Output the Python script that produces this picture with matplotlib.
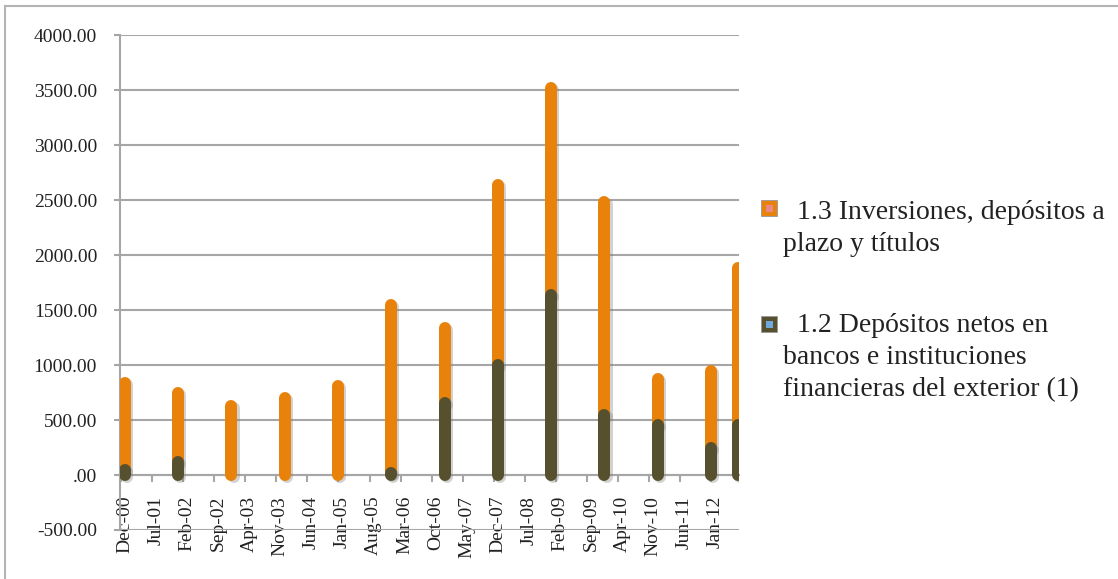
import numpy as np
import pandas as pd
import matplotlib
matplotlib.use("Agg")
import matplotlib.pyplot as plt
import matplotlib.patheffects as pe
from matplotlib.patches import Rectangle
from matplotlib.lines import Line2D
from matplotlib.ticker import FixedLocator, FuncFormatter

# data
dates = ["2000-12", "2001-12", "2002-12", "2003-12", "2004-12", "2005-12",
         "2006-12", "2007-12", "2008-12", "2009-12", "2010-12", "2011-12",
         "2012-06"]
depositos = np.array([45, 121, 0, 0, 0, 18, 652, 1000, 1636, 545, 455, 243, 455])
inversiones = np.array([791, 624, 630, 703, 809, 1527, 681, 1636, 1879, 1940,
                        415, 702, 1424])

tick_labels = ["Dec-00", "Jul-01", "Feb-02", "Sep-02", "Apr-03", "Nov-03",
               "Jun-04", "Jan-05", "Aug-05", "Mar-06", "Oct-06", "May-07",
               "Dec-07", "Jul-08", "Feb-09", "Sep-09", "Apr-10", "Nov-10",
               "Jun-11", "Jan-12"]

label_13 = "  1.3 Inversiones, depósitos a\nplazo y títulos"
label_12 = "  1.2 Depósitos netos en\nbancos e instituciones\nfinancieras del exterior (1)"

orange = "#E8820A"
dark = "#57502F"
grid_c = "#A6A6A6"


def month_index(s, start="2000-12"):
    p = pd.Period(s, freq="M")
    return (p - pd.Period(start, freq="M")).n


x = np.array([month_index(d) for d in dates])
tick_pos = np.array([month_index(t) for t in
                     pd.to_datetime(tick_labels, format="%b-%y").strftime("%Y-%m")])

plt.rcParams['font.family'] = ['Liberation Serif', 'DejaVu Serif']

fig = plt.figure(figsize=(11.18, 5.79), dpi=100)
ax = fig.add_axes([0.10733, 0.08463, 0.55367, 0.8549])

ax.set_xlim(-1.1, 138.3)
ax.set_ylim(-500, 4000)

ax.set_yticks(np.arange(-500, 4001, 500))
ax.yaxis.set_major_formatter(FuncFormatter(
    lambda v, p: (f"{v:.2f}"[1:] if f"{v:.2f}".startswith("0.") else f"{v:.2f}")))
ax.grid(axis="y", color=grid_c, linewidth=1.5, zorder=0)
ax.set_axisbelow(True)

for s in ["top", "right"]:
    ax.spines[s].set_visible(False)
ax.spines["left"].set_color(grid_c)
ax.spines["left"].set_linewidth(1.5)
ax.spines["bottom"].set_position(("data", 0))
ax.spines["bottom"].set_color(grid_c)
ax.spines["bottom"].set_linewidth(1.5)

ax.set_xticks(tick_pos)
ax.set_xticklabels(tick_labels, rotation=90)
ax.xaxis.set_minor_locator(FixedLocator(tick_pos - 0.9))
ax.tick_params(axis="x", which="major", length=0, pad=15, labelsize=14,
               colors="#222222")
ax.tick_params(axis="x", which="minor", length=5, width=1.5, color=grid_c,
               direction="out")
ax.tick_params(axis="y", length=4, width=1.5, color=grid_c, pad=12.5,
               labelsize=14, labelcolor="#222222")

shadow = [pe.SimpleLineShadow(offset=(1.5, -1.5), shadow_color="gray",
                              alpha=0.35), pe.Normal()]
lw = 8.64
base = np.maximum(depositos, 0)
o = ax.vlines(x, base, base + inversiones, colors=orange, linewidth=lw,
              capstyle="round", zorder=3)
o.set_path_effects(shadow)
mask = depositos > 0
d = ax.vlines(x[mask], 0, depositos[mask], colors=dark, linewidth=lw,
              capstyle="round", zorder=4)
d.set_path_effects(shadow)

# legend drawn by hand (marker next to first line)
W, H = 1118, 579
for cy, outer, inner, ty, txt in [(208, orange, "#E88A8A", 200, label_13),
                                  (324, dark, "#6FA8DC", 313, label_12)]:
    fig.add_artist(Rectangle((761 / W, 1 - (cy + 8) / H), 16 / W, 16 / H,
                             facecolor=outer, edgecolor="#999999",
                             linewidth=0.6, transform=fig.transFigure))
    fig.add_artist(Rectangle((765.5 / W, 1 - (cy + 3.5) / H), 7 / W, 7 / H,
                             facecolor=inner, edgecolor="none",
                             transform=fig.transFigure))
    fig.text(783 / W, 1 - ty / H, txt, fontsize=20, va="top", ha="left",
             linespacing=1.38, color="#222222")

# outer frame of the chart (only top and left edges visible)
fig.add_artist(Line2D([5 / W, 1], [1 - 6 / H, 1 - 6 / H], color="#B4B4B4",
                      linewidth=1.5, transform=fig.transFigure))
fig.add_artist(Line2D([5 / W, 5 / W], [0, 1 - 6 / H], color="#B4B4B4",
                      linewidth=1.5, transform=fig.transFigure))

fig.savefig("out.png", dpi=100)
